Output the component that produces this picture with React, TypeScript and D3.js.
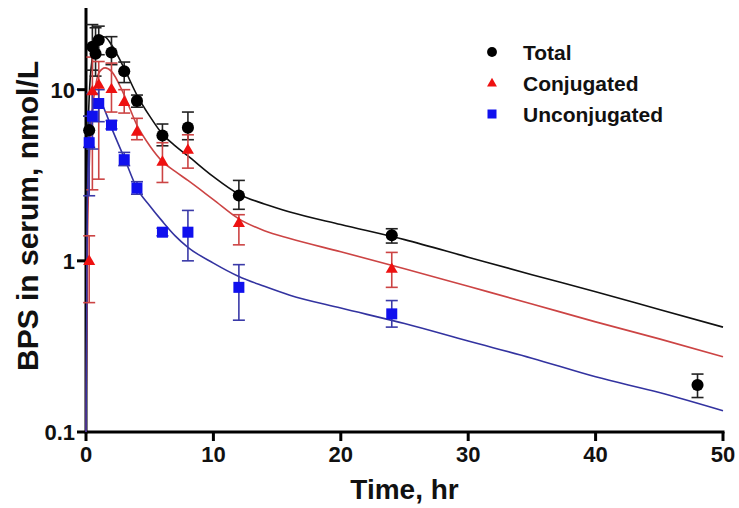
import React from "react";
import * as d3 from "d3";

const W = 739;
const H = 508;

// Observed data: time (hr), mean, lower, upper
const totalTimes = [0.25, 0.5, 0.75, 1, 2, 3, 4, 6, 8, 12, 24, 48];
const totalMean = [5.8, 17.8, 16.2, 19.5, 16.5, 12.8, 8.6, 5.4, 6.0, 2.41, 1.41, 0.188];
const totalLow = [4.6, 13, 12, 16, 14, 11, 7.9, 4.7, 5.1, 2.0, 1.27, 0.159];
const totalHigh = [7.0, 24, 23, 23.5, 20.4, 14.5, 9.3, 6.3, 7.4, 2.95, 1.54, 0.218];

const conjTimes = [0.25, 0.5, 1, 2, 3, 4, 6, 8, 12, 24];
const conjMean = [1.0, 9.8, 10.7, 10.1, 8.5, 5.7, 3.8, 4.46, 1.67, 0.9];
const conjLow = [0.57, 2.6, 3.0, 7.4, 7.3, 5.1, 2.87, 3.48, 1.24, 0.7];
const conjHigh = [1.4, 15.5, 14.6, 14.3, 10.0, 6.8, 4.9, 5.45, 1.86, 1.12];

const unconjTimes = [0.25, 0.5, 1, 2, 3, 4, 6, 8, 12, 24];
const unconjMean = [4.9, 7.0, 8.3, 6.2, 3.9, 2.66, 1.47, 1.47, 0.7, 0.49];
const unconjLow = [2.4, 4.5, 6.5, 5.9, 3.6, 2.45, 1.4, 1.0, 0.45, 0.41];
const unconjHigh = [7.0, 9.5, 10.0, 6.6, 4.3, 2.9, 1.55, 1.97, 0.95, 0.586];

// Fitted curves
const curveTimes = [0, 0.1, 0.25, 0.5, 0.75, 1, 1.5, 2, 3, 4, 5, 6, 7, 8, 10, 12, 14, 16, 20, 25, 30, 35, 40, 45, 50];
const totalCurve = [0.1, 3, 9, 15.5, 19, 20.5, 20.3, 18.3, 13.3, 9.3, 7.0, 5.5, 4.7, 4.1, 3.1, 2.45, 2.15, 1.93, 1.63, 1.33, 1.05, 0.83, 0.66, 0.52, 0.41];
const conjCurve = [0.1, 1.0, 3.5, 7.5, 10.5, 12.5, 13.4, 12.8, 9.3, 6.2, 4.7, 3.8, 3.33, 2.95, 2.28, 1.76, 1.5, 1.35, 1.13, 0.9, 0.71, 0.56, 0.44, 0.35, 0.275];
const unconjCurve = [0.1, 2, 5, 7.5, 8.6, 8.8, 7.5, 6.0, 4.0, 2.65, 2.1, 1.7, 1.4, 1.2, 0.97, 0.81, 0.71, 0.63, 0.53, 0.43, 0.34, 0.27, 0.21, 0.17, 0.133];

const xTicks = [0, 10, 20, 30, 40, 50];
const yTicks = [0.1, 1, 10];
const yTickLabels = ["0.1", "1", "10"];
const legendLabels = ["Total", "Conjugated", "Unconjugated"];

const FONT = "'Liberation Sans', Arial, sans-serif";

type Series = {
  times: number[];
  mean: number[];
  low: number[];
  high: number[];
  curve: number[];
  marker: "circle" | "triangle" | "square";
  fill: string;
  line: string;
  bar: string;
};

const series: Series[] = [
  { times: totalTimes, mean: totalMean, low: totalLow, high: totalHigh, curve: totalCurve, marker: "circle", fill: "#000000", line: "#111111", bar: "#222222" },
  { times: conjTimes, mean: conjMean, low: conjLow, high: conjHigh, curve: conjCurve, marker: "triangle", fill: "#ee1111", line: "#cc4444", bar: "#cc4444" },
  { times: unconjTimes, mean: unconjMean, low: unconjLow, high: unconjHigh, curve: unconjCurve, marker: "square", fill: "#1010ee", line: "#3333a0", bar: "#3a3aa8" },
];

function Marker({ kind, x, y, fill, s }: { kind: string; x: number; y: number; fill: string; s: number }) {
  if (kind === "circle") return <circle cx={x} cy={y} r={s * 0.55} fill={fill} />;
  if (kind === "square") return <rect x={x - s * 0.5} y={y - s * 0.5} width={s} height={s} fill={fill} />;
  const h = s * 0.95;
  return (
    <path
      d={`M${x},${y - h * 0.6} L${x + s * 0.55},${y + h * 0.4} L${x - s * 0.55},${y + h * 0.4} Z`}
      fill={fill}
    />
  );
}

export default function App() {
  const x = d3.scaleLinear().domain([0, 50]).range([86, 723]);
  const y = d3.scaleLog().domain([0.1, 30]).range([432, 8]);
  const line = d3
    .line<[number, number]>()
    .x((d) => x(d[0]))
    .y((d) => y(d[1]))
    .curve(d3.curveMonotoneX);

  return (
    <svg width={W} height={H} style={{ position: "absolute", left: 0, top: 0, background: "#fff" }}>
      <rect width={W} height={H} fill="#fff" />
      {/* axes */}
      <line x1={x(0)} x2={x(50) + 1.5} y1={y(0.1)} y2={y(0.1)} stroke="#000" strokeWidth={3} />
      <line x1={x(0)} x2={x(0)} y1={y(0.1) + 1.5} y2={8} stroke="#000" strokeWidth={3} />
      {xTicks.map((t) => (
        <g key={"xt" + t}>
          <line x1={x(t)} x2={x(t)} y1={y(0.1)} y2={y(0.1) + 9} stroke="#000" strokeWidth={3} />
          <text x={x(t)} y={y(0.1) + 30} textAnchor="middle" fontFamily={FONT} fontWeight="bold" fontSize={22} fill="#111">
            {t}
          </text>
        </g>
      ))}
      {yTicks.map((t, i) => (
        <g key={"yt" + t}>
          <line x1={x(0) - 9} x2={x(0)} y1={y(t)} y2={y(t)} stroke="#000" strokeWidth={3} />
          <text x={x(0) - 11} y={y(t) + 8} textAnchor="end" fontFamily={FONT} fontWeight="bold" fontSize={22} fill="#111">
            {yTickLabels[i]}
          </text>
        </g>
      ))}
      <text x={(x(0) + x(50)) / 2} y={499} textAnchor="middle" fontFamily={FONT} fontWeight="bold" fontSize={28} fill="#111">
        Time, hr
      </text>
      <text
        transform={`translate(38,216) rotate(-90)`}
        textAnchor="middle"
        fontFamily={FONT}
        fontWeight="bold"
        fontSize={30}
        fill="#111"
      >
        BPS in serum, nmol/L
      </text>

      {/* fitted curves */}
      {series.map((s, i) => (
        <path
          key={"c" + i}
          d={line(curveTimes.map((t, j) => [t, s.curve[j]] as [number, number])) || ""}
          fill="none"
          stroke={s.line}
          strokeWidth={1.6}
        />
      ))}

      {/* error bars */}
      {series.map((s, i) =>
        s.times.map((t, j) => (
          <g key={`e${i}-${j}`} stroke={s.bar} strokeWidth={1.6}>
            <line x1={x(t)} x2={x(t)} y1={y(s.low[j])} y2={y(s.high[j])} />
            <line x1={x(t) - 6} x2={x(t) + 6} y1={y(s.low[j])} y2={y(s.low[j])} />
            <line x1={x(t) - 6} x2={x(t) + 6} y1={y(s.high[j])} y2={y(s.high[j])} />
          </g>
        ))
      )}

      {/* markers */}
      {series.map((s, i) =>
        s.times.map((t, j) => (
          <Marker key={`m${i}-${j}`} kind={s.marker} x={x(t)} y={y(s.mean[j])} fill={s.fill} s={11} />
        ))
      )}

      {/* legend */}
      {series.map((s, i) => (
        <g key={"lg" + i}>
          <Marker kind={s.marker} x={492} y={52 + i * 31} fill={s.fill} s={9} />
          <text x={523} y={52 + i * 31 + 7.5} fontFamily={FONT} fontWeight="bold" fontSize={21} fill="#111">
            {legendLabels[i]}
          </text>
        </g>
      ))}
    </svg>
  );
}
